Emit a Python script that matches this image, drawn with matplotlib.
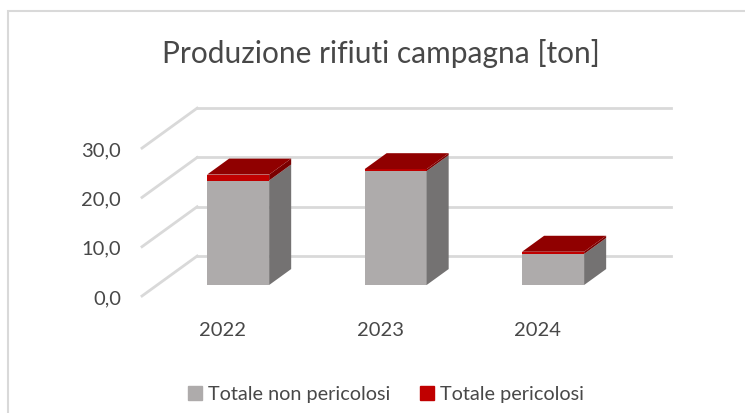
import matplotlib as mpl
import matplotlib.pyplot as plt
from matplotlib.patches import Polygon, Patch, Rectangle

mpl.rcParams.update({
    "font.family": ["Lato", "DejaVu Sans"],
    "text.color": "#484848",
    "xtick.color": "#484848",
    "ytick.color": "#484848",
})

years = ["2022", "2023", "2024"]
non_pericolosi = [21.2, 23.1, 6.3]
pericolosi = [1.2, 0.4, 0.45]
y_ticks = [0, 10, 20, 30]
y_labels = ["0,0", "10,0", "20,0", "30,0"]
series_names = ["Totale non pericolosi", "Totale pericolosi"]

# fake 3d: depth shifts a point right by DX categories and up by DY values
DX, DY = 0.35, 8.1
D0, D1 = 0.275, 0.675   # front/back depth of the bars
BAR_W = 0.394
X0, X1 = -0.514, 2.495  # side wall / end of back wall

GREY = "#AEABAB"
GREY_SIDE = "#747272"
RED = "#C00000"
RED_TOP = "#900000"
RED_SIDE = "#7A0000"
GRID = "#D9D9D9"


def P(x, v, d):
    return (x + d * DX, v + d * DY)


W, H = 745, 414
fig = plt.figure(figsize=(W / 100, H / 100), dpi=100)
# chart area border, only top and left edges fall inside the picture
fig.patches.append(Rectangle((8 / W, -0.5), 2, 1.5 - 12 / H, transform=fig.transFigure,
                             fill=False, edgecolor="#D9D9D9", linewidth=1.5))

ax = fig.add_axes([142 / W, (H - 297) / H, (671 - 142) / W, (297 - 99.8) / H])
ax.set_xlim(X0, X1 + DX)
ax.set_ylim(0, 40)
for s in ax.spines.values():
    s.set_visible(False)

# back wall and side wall grid
for g in y_ticks:
    ax.plot(*zip(P(X0, g, 1), P(X1, g, 1)), color=GRID, lw=2, clip_on=False, zorder=1)
    ax.plot(*zip(P(X0, g, 0), P(X0, g, 1)), color=GRID, lw=2, clip_on=False, zorder=1)

for i, (a, b) in enumerate(zip(non_pericolosi, pericolosi)):
    l = i - BAR_W / 2
    r = i + BAR_W / 2
    # front faces
    ax.bar(i + D0 * DX, a, BAR_W, bottom=D0 * DY, color=GREY, zorder=3)
    ax.bar(i + D0 * DX, b, BAR_W, bottom=D0 * DY + a, color=RED, zorder=3)
    # side faces
    ax.add_patch(Polygon([P(r, 0, D0), P(r, 0, D1), P(r, a, D1), P(r, a, D0)],
                         color=GREY_SIDE, zorder=3, lw=0))
    ax.add_patch(Polygon([P(r, a, D0), P(r, a, D1), P(r, a + b, D1), P(r, a + b, D0)],
                         color=RED_SIDE, zorder=3, lw=0))
    # top face
    t = a + b
    ax.add_patch(Polygon([P(l, t, D0), P(r, t, D0), P(r, t, D1), P(l, t, D1)],
                         color=RED_TOP, zorder=3, lw=0))

ax.set_yticks(y_ticks)
ax.set_yticklabels(y_labels, fontsize=14.5)
ax.set_xticks(range(len(years)))
ax.set_xticklabels(years, fontsize=14.5)
ax.tick_params(length=0)
ax.tick_params(axis="y", pad=15)
ax.tick_params(axis="x", pad=18)

fig.text(381 / W, 1 - 53 / H, "Produzione rifiuti campagna [ton]",
         ha="center", va="center", fontsize=21.5)

handles = [Patch(color=GREY), Patch(color=RED)]
fig.legend(handles, series_names, loc="center", bbox_to_anchor=(386 / W, 1 - 395 / H),
           ncol=2, frameon=False, fontsize=14.3, handlelength=0.7, handleheight=0.7,
           handletextpad=0.3, columnspacing=1.5)

fig.savefig("out.png", dpi=100)
